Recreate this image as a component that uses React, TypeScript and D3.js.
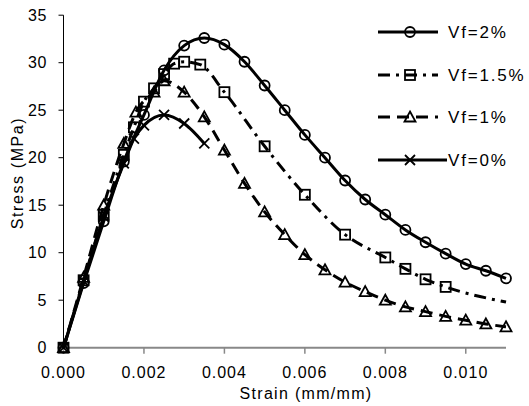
import React from "react";
import * as d3 from "d3";

const W = 529;
const H = 406;

const xTicks = [0, 0.002, 0.004, 0.006, 0.008, 0.01];
const yTicks = [0, 5, 10, 15, 20, 25, 30, 35];

const vf2Strain = [0, 0.0005, 0.001, 0.0015, 0.002, 0.0025, 0.003, 0.0035, 0.004, 0.0045, 0.005, 0.0055, 0.006, 0.0065, 0.007, 0.0075, 0.008, 0.0085, 0.009, 0.0095, 0.01, 0.0105, 0.011];
const vf2Stress = [0, 6.8, 13.3, 19.6, 24.5, 29.2, 31.8, 32.6, 31.9, 30.1, 27.6, 25.0, 22.4, 20.0, 17.6, 15.6, 14.0, 12.4, 11.1, 9.9, 8.8, 8.1, 7.3];

const vf15Strain = [0, 0.0005, 0.001, 0.0015, 0.00175, 0.002, 0.00225, 0.0025, 0.00275, 0.003, 0.0034, 0.004, 0.005, 0.006, 0.007, 0.008, 0.0085, 0.009, 0.0095, 0.011];
const vf15Stress = [0, 7.1, 14.0, 20.3, 23.2, 25.9, 27.3, 28.8, 29.9, 30.1, 29.8, 26.9, 21.2, 16.1, 11.9, 9.5, 8.3, 7.2, 6.4, 4.8];
const vf15Marked = [1, 1, 1, 1, 1, 1, 1, 1, 1, 1, 1, 1, 1, 1, 1, 1, 1, 1, 1, 0];

const vf1Strain = [0, 0.0005, 0.001, 0.0015, 0.0018, 0.00225, 0.0025, 0.003, 0.0035, 0.004, 0.0045, 0.005, 0.0055, 0.006, 0.0065, 0.007, 0.0075, 0.008, 0.0085, 0.009, 0.0095, 0.01, 0.0105, 0.011];
const vf1Stress = [0, 7.4, 15.0, 21.5, 24.8, 26.9, 28.1, 26.9, 24.3, 20.8, 17.3, 14.3, 11.9, 9.8, 8.2, 6.9, 5.9, 5.0, 4.3, 3.8, 3.3, 2.9, 2.5, 2.2];

const vf0Strain = [0, 0.0005, 0.001, 0.0015, 0.00175, 0.002, 0.0025, 0.003, 0.0035];
const vf0Stress = [0, 7.0, 13.8, 19.4, 22.0, 23.4, 24.5, 23.6, 21.5];

const seriesNames = ["Vf=2%", "Vf=1.5%", "Vf=1%", "Vf=0%"];

const FONT = "'Liberation Sans', Arial, sans-serif";

type Pt = { x: number; y: number; m: boolean };

function build(xs: number[], ys: number[], marks?: number[]): Pt[] {
  return xs.map((x, i) => ({ x, y: ys[i], m: marks ? marks[i] === 1 : true }));
}

const series = [
  { name: seriesNames[0], data: build(vf2Strain, vf2Stress), dash: "none", marker: "circle" },
  { name: seriesNames[1], data: build(vf15Strain, vf15Stress, vf15Marked), dash: "12,6,3,6", marker: "square" },
  { name: seriesNames[2], data: build(vf1Strain, vf1Stress), dash: "12,7", marker: "triangle" },
  { name: seriesNames[3], data: build(vf0Strain, vf0Stress), dash: "none", marker: "x" },
];

function Marker({ type, cx, cy }: { type: string; cx: number; cy: number }) {
  const common = { fill: "none", stroke: "#000", strokeWidth: 1.8 };
  if (type === "circle") return <circle cx={cx} cy={cy} r={5} {...common} />;
  if (type === "square") return <rect x={cx - 5} y={cy - 5} width={10} height={10} {...common} />;
  if (type === "triangle")
    return <path d={`M${cx},${cy - 5.5}L${cx + 5.5},${cy + 4.5}L${cx - 5.5},${cy + 4.5}Z`} {...common} />;
  return (
    <path d={`M${cx - 5},${cy - 5}L${cx + 5},${cy + 5}M${cx - 5},${cy + 5}L${cx + 5},${cy - 5}`} {...common} />
  );
}

export default function App() {
  const x = d3.scaleLinear().domain([0, 0.011]).range([63.5, 506]);
  const y = d3.scaleLinear().domain([0, 35]).range([347.7, 15.2]);
  const line = d3
    .line<Pt>()
    .x((d) => x(d.x))
    .y((d) => y(d.y))
    .curve(d3.curveMonotoneX);
  const fmt = d3.format(".3f");

  const legendRows = [32, 75, 117, 160];

  return (
    <svg width={W} height={H} style={{ position: "absolute", left: 0, top: 0, background: "#fff" }} fontFamily={FONT}>
      {/* y axis */}
      <line x1={x(0)} x2={x(0)} y1={y(35)} y2={y(0)} stroke="#000" strokeWidth={1} />
      {yTicks.map((t) => (
        <g key={"y" + t}>
          <line x1={x(0) - 5} x2={x(0)} y1={y(t)} y2={y(t)} stroke="#000" strokeWidth={1} />
          <text x={47} y={y(t) + 5.5} textAnchor="end" fontSize={16} letterSpacing={0.6}>
            {t}
          </text>
        </g>
      ))}
      {/* x axis */}
      <line x1={x(0)} x2={x(0.011)} y1={y(0)} y2={y(0)} stroke="#888" strokeWidth={2} />
      {xTicks.map((t) => (
        <g key={"x" + t}>
          <line x1={x(t)} x2={x(t)} y1={y(0)} y2={y(0) + 6} stroke="#888" strokeWidth={1.5} />
          <text x={x(t)} y={378} textAnchor="middle" fontSize={16} letterSpacing={1}>
            {fmt(t)}
          </text>
        </g>
      ))}
      <text x={306} y={399} textAnchor="middle" fontSize={16} letterSpacing={1.3}>
        Strain (mm/mm)
      </text>
      <text
        transform={`translate(23,173) rotate(-90)`}
        textAnchor="middle"
        fontSize={16}
        letterSpacing={1.6}
      >
        Stress (MPa)
      </text>

      {/* series */}
      {series.map((s) => (
        <g key={s.name}>
          <path d={line(s.data) || ""} fill="none" stroke="#000" strokeWidth={3} strokeDasharray={s.dash} />
          {s.data
            .filter((d) => d.m)
            .map((d, i) => (
              <Marker key={i} type={s.marker} cx={x(d.x)} cy={y(d.y)} />
            ))}
        </g>
      ))}

      {/* legend */}
      {series.map((s, i) => {
        const cy = legendRows[i];
        const x2 = i === 3 ? 447 : 438;
        return (
          <g key={"lg" + s.name}>
            <line x1={378} x2={x2} y1={cy} y2={cy} stroke="#000" strokeWidth={3} strokeDasharray={s.dash} />
            <Marker type={s.marker} cx={410} cy={cy} />
            <text x={448} y={cy + 6} fontSize={17} letterSpacing={1.8}>
              {s.name}
            </text>
          </g>
        );
      })}
    </svg>
  );
}
